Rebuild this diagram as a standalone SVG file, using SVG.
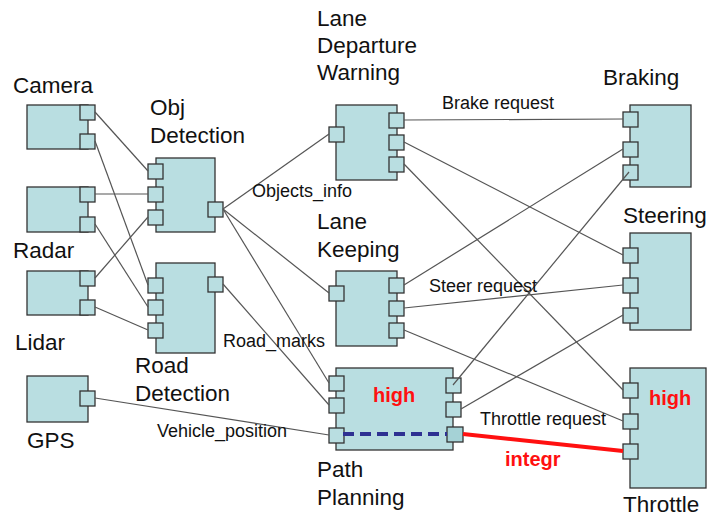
<svg xmlns="http://www.w3.org/2000/svg" width="710" height="518" viewBox="0 0 710 518">
<style>
.b{fill:#b9dee1;stroke:#333;stroke-width:1.3}
.p{fill:#b9dee1;stroke:#333;stroke-width:1.3}
.t{font-family:"Liberation Sans",Arial,sans-serif;font-size:22.5px;fill:#111}
.c{font-family:"Liberation Sans",Arial,sans-serif;font-size:18px;fill:#111}
.r{font-family:"Liberation Sans",Arial,sans-serif;font-size:20px;font-weight:bold;fill:#ff1010}
.l{stroke:#555;stroke-width:1.2;fill:none}
</style>
<rect width="710" height="518" fill="#fff"/>
<g id="camera">
<rect class="b" x="27" y="105" width="61" height="44"/>
<rect class="p" x="80" y="105" width="15" height="15"/>
<rect class="p" x="80" y="134" width="15" height="15"/>
<text class="t" x="13" y="93">Camera</text>
</g>
<g id="radar">
<rect class="b" x="27" y="187" width="61" height="45"/>
<rect class="p" x="80" y="187" width="15" height="15"/>
<rect class="p" x="80" y="217" width="15" height="15"/>
<text class="t" x="13" y="258">Radar</text>
</g>
<g id="lidar">
<rect class="b" x="27" y="271" width="61" height="44"/>
<rect class="p" x="80" y="271" width="15" height="15"/>
<rect class="p" x="80" y="300" width="15" height="15"/>
<text class="t" x="15" y="350">Lidar</text>
</g>
<g id="gps">
<rect class="b" x="27" y="376" width="61" height="46"/>
<rect class="p" x="80" y="391" width="15" height="15"/>
<text class="t" x="27" y="448">GPS</text>
</g>
<g id="obj-detection">
<rect class="b" x="156" y="158" width="59" height="74"/>
<rect class="p" x="148" y="164" width="15" height="15"/>
<rect class="p" x="148" y="187" width="15" height="15"/>
<rect class="p" x="148" y="210" width="15" height="15"/>
<rect class="p" x="208" y="202" width="15" height="15"/>
<text class="t" x="150" y="115">Obj</text>
<text class="t" x="150" y="143">Detection</text>
</g>
<g id="road-detection">
<rect class="b" x="156" y="263" width="59" height="90"/>
<rect class="p" x="148" y="278" width="15" height="15"/>
<rect class="p" x="148" y="300" width="15" height="15"/>
<rect class="p" x="148" y="323" width="15" height="15"/>
<rect class="p" x="208" y="277" width="15" height="15"/>
<text class="t" x="135" y="373">Road</text>
<text class="t" x="135" y="401">Detection</text>
</g>
<g id="lane-departure-warning">
<rect class="b" x="336" y="105" width="61" height="75"/>
<rect class="p" x="329" y="127" width="15" height="15"/>
<rect class="p" x="389" y="113" width="15" height="15"/>
<rect class="p" x="389" y="135" width="15" height="15"/>
<rect class="p" x="389" y="157" width="15" height="15"/>
<text class="t" x="317" y="26">Lane</text>
<text class="t" x="317" y="53">Departure</text>
<text class="t" x="317" y="80">Warning</text>
</g>
<g id="lane-keeping">
<rect class="b" x="336" y="271" width="61" height="75"/>
<rect class="p" x="329" y="286" width="15" height="15"/>
<rect class="p" x="389" y="278" width="15" height="15"/>
<rect class="p" x="389" y="301" width="15" height="15"/>
<rect class="p" x="389" y="323" width="15" height="15"/>
<text class="t" x="317" y="229">Lane</text>
<text class="t" x="317" y="257">Keeping</text>
</g>
<g id="path-planning">
<rect class="b" x="336" y="368" width="117" height="82"/>
<rect class="p" x="329" y="376" width="15" height="15"/>
<rect class="p" x="329" y="398" width="15" height="15"/>
<rect class="p" x="329" y="428" width="15" height="15"/>
<rect class="p" x="446" y="378" width="15" height="15"/>
<rect class="p" x="446" y="402" width="15" height="15"/>
<rect class="p" x="447" y="427" width="16" height="15" style="fill:#a5d2d6"/>
<text class="r" x="373" y="402">high</text>
<text class="t" x="317" y="477">Path</text>
<text class="t" x="317" y="505">Planning</text>
</g>
<g id="braking">
<rect class="b" x="630" y="105" width="61" height="82"/>
<rect class="p" x="623" y="112" width="15" height="15"/>
<rect class="p" x="623" y="142" width="15" height="15"/>
<rect class="p" x="623" y="165" width="15" height="15"/>
<text class="t" x="603" y="85">Braking</text>
</g>
<g id="steering">
<rect class="b" x="630" y="233" width="61" height="97"/>
<rect class="p" x="623" y="248" width="15" height="15"/>
<rect class="p" x="623" y="278" width="15" height="15"/>
<rect class="p" x="623" y="308" width="15" height="15"/>
<text class="t" x="623" y="223">Steering</text>
</g>
<g id="throttle">
<rect class="b" x="630" y="368" width="76" height="120"/>
<rect class="p" x="623" y="383" width="15" height="15"/>
<rect class="p" x="623" y="414" width="15" height="15"/>
<rect class="p" x="623" y="444" width="15" height="15"/>
<text class="r" x="649" y="405">high</text>
<text class="t" x="623" y="512">Throttle</text>
</g>
<g id="connectors">
<line class="l" x1="95" y1="112" x2="148" y2="171"/>
<line class="l" x1="95" y1="141" x2="148" y2="285"/>
<line class="l" x1="95" y1="194" x2="148" y2="194"/>
<line class="l" x1="95" y1="224" x2="148" y2="307"/>
<line class="l" x1="95" y1="278" x2="148" y2="217"/>
<line class="l" x1="95" y1="307" x2="148" y2="330"/>
<line class="l" x1="95" y1="398" x2="329" y2="435"/>
<line class="l" x1="223" y1="209" x2="329" y2="134"/>
<line class="l" x1="223" y1="209" x2="329" y2="293"/>
<line class="l" x1="223" y1="209" x2="329" y2="383"/>
<line class="l" x1="223" y1="284" x2="329" y2="405"/>
<line class="l" x1="404" y1="120" x2="623" y2="119"/>
<line class="l" x1="404" y1="142" x2="623" y2="255"/>
<line class="l" x1="404" y1="164" x2="623" y2="390"/>
<line class="l" x1="404" y1="285" x2="623" y2="149"/>
<line class="l" x1="404" y1="308" x2="623" y2="285"/>
<line class="l" x1="404" y1="330" x2="623" y2="421"/>
<line class="l" x1="453" y1="385" x2="629" y2="172"/>
<line class="l" x1="461" y1="409" x2="623" y2="315"/>
<line x1="463" y1="434" x2="623" y2="451" stroke="#ff1010" stroke-width="4"/>
<line x1="343" y1="434" x2="447" y2="434" stroke="#2e3192" stroke-width="4" stroke-dasharray="11,6"/>
<text class="c" x="442" y="109">Brake request</text>
<text class="c" x="252" y="197">Objects_info</text>
<text class="c" x="429" y="292">Steer request</text>
<text class="c" x="223" y="347">Road_marks</text>
<text class="c" x="157" y="437">Vehicle_position</text>
<text class="c" x="480" y="425">Throttle request</text>
<text class="r" x="505" y="466">integr</text>
</g>
</svg>
